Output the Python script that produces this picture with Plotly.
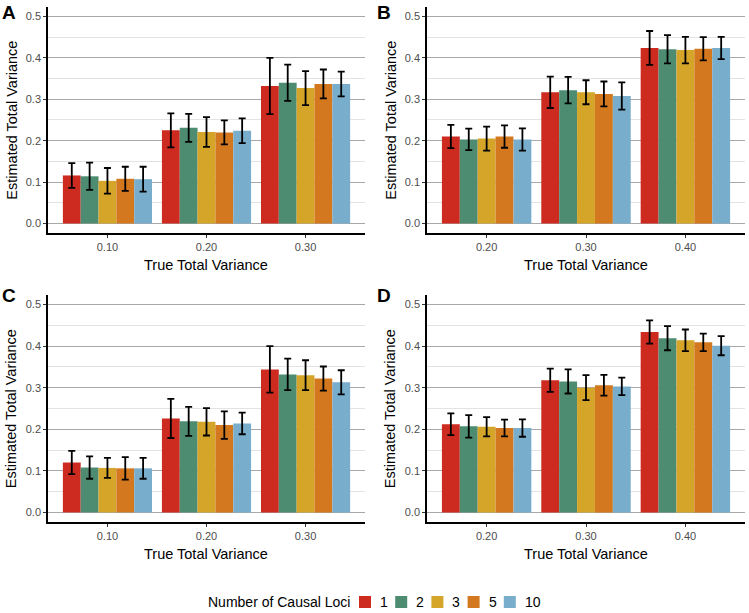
import plotly.graph_objects as go
from plotly.subplots import make_subplots

# categories
loci = ["1", "2", "3", "5", "10"]
loci_colors = ["#CD2A20", "#4E8C72", "#D5A52A", "#D3781F", "#78ADCC"]
true_var_ac = ["0.10", "0.20", "0.30"]
true_var_bd = ["0.20", "0.30", "0.40"]

# estimated total variance, one row per number of causal loci
est_a = [[0.116, 0.225, 0.332], [0.114, 0.231, 0.340], [0.103, 0.221, 0.327],
         [0.108, 0.220, 0.337], [0.107, 0.224, 0.337]]
err_a = [[0.030, 0.041, 0.068], [0.033, 0.034, 0.044], [0.031, 0.036, 0.041],
         [0.029, 0.029, 0.035], [0.030, 0.030, 0.030]]

est_b = [[0.210, 0.317, 0.424], [0.203, 0.322, 0.421], [0.205, 0.317, 0.419],
         [0.210, 0.313, 0.422], [0.203, 0.308, 0.424]]
err_b = [[0.028, 0.038, 0.041], [0.026, 0.032, 0.034], [0.029, 0.029, 0.032],
         [0.027, 0.030, 0.028], [0.027, 0.033, 0.027]]

est_c = [[0.120, 0.226, 0.344], [0.108, 0.219, 0.332], [0.107, 0.218, 0.330],
         [0.106, 0.210, 0.322], [0.106, 0.214, 0.313]]
err_c = [[0.028, 0.047, 0.056], [0.027, 0.035, 0.038], [0.024, 0.033, 0.036],
         [0.027, 0.033, 0.029], [0.025, 0.026, 0.029]]

est_d = [[0.212, 0.318, 0.434], [0.207, 0.315, 0.419], [0.206, 0.300, 0.414],
         [0.203, 0.306, 0.409], [0.203, 0.303, 0.401]]
err_d = [[0.026, 0.028, 0.028], [0.027, 0.029, 0.029], [0.023, 0.030, 0.026],
         [0.020, 0.025, 0.021], [0.021, 0.021, 0.023]]

panels = [
    ("A", 1, 1, true_var_ac, est_a, err_a),
    ("B", 1, 2, true_var_bd, est_b, err_b),
    ("C", 2, 1, true_var_ac, est_c, err_c),
    ("D", 2, 2, true_var_bd, est_d, err_d),
]

FONT = "Liberation Sans, Arial, sans-serif"
W, H = 749, 613


def px_x(x):
    return x / W


def px_y(y):
    return 1 - y / H


fig = make_subplots(rows=2, cols=2)

for letter, row, col, cats, est, err in panels:
    for i, locus in enumerate(loci):
        fig.add_trace(
            go.Bar(
                x=cats, y=est[i], name=locus,
                marker=dict(color=loci_colors[i], line=dict(width=0)),
                error_y=dict(type="data", array=err[i], color="black",
                             thickness=1.8, width=3.5),
                legendgroup=locus,
                showlegend=False,
            ),
            row=row, col=col,
        )

# panel placement (paper fractions of the page)
x_left = [0.0641, 0.4873]
x_right = [0.5701, 0.9947]
y_top = [0.6199, 0.9886]
y_bottom = [0.1485, 0.5188]

axis_ids = {(1, 1): ("xaxis", "yaxis"), (1, 2): ("xaxis2", "yaxis2"),
            (2, 1): ("xaxis3", "yaxis3"), (2, 2): ("xaxis4", "yaxis4")}

annotations = []
shapes = []
for letter, row, col, cats, est, err in panels:
    xa, ya = axis_ids[(row, col)]
    xdom = x_left if col == 1 else x_right
    ydom = y_top if row == 1 else y_bottom
    fig.layout[xa].update(
        domain=xdom, type="category", range=[-0.6, 2.6],
        showline=True, linecolor="black", linewidth=1.5,
        ticks="outside", ticklen=3, tickcolor="#333333",
        tickfont=dict(size=11, color="#4D4D4D", family=FONT),
        showgrid=False, zeroline=False, automargin=False,
    )
    fig.layout[ya].update(
        domain=ydom, range=[-0.023, 0.523],
        tickvals=[0, 0.1, 0.2, 0.3, 0.4, 0.5], tickformat=".1f",
        showline=True, linecolor="black", linewidth=1.5,
        ticks="outside", ticklen=3, tickcolor="#333333",
        tickfont=dict(size=11, color="#4D4D4D", family=FONT),
        showgrid=True, gridcolor="#A9A9A9", gridwidth=1,
        minor=dict(tick0=0, dtick=0.05, showgrid=True,
                   gridcolor="#E3E3E3", gridwidth=1, ticks=""),
        zeroline=False, automargin=False,
    )
    xmid = (xdom[0] + xdom[1]) / 2
    ymid = (ydom[0] + ydom[1]) / 2
    annotations.append(dict(
        text="True Total Variance", x=xmid, y=ydom[0] - 0.052,
        xref="paper", yref="paper", showarrow=False,
        xanchor="center", yanchor="middle",
        font=dict(size=14.5, color="black", family=FONT),
    ))
    annotations.append(dict(
        text="Estimated Total Variance", x=xdom[0] - 0.0485, y=ymid,
        xref="paper", yref="paper", showarrow=False, textangle=-90,
        xanchor="center", yanchor="middle",
        font=dict(size=14.5, color="black", family=FONT),
    ))
    annotations.append(dict(
        text="<b>%s</b>" % letter,
        x=0.0 if col == 1 else 0.501,
        y=1.0 if row == 1 else 0.538,
        xref="paper", yref="paper", showarrow=False,
        xanchor="left", yanchor="top",
        font=dict(size=19, color="black", family=FONT),
    ))

# bottom legend in ggplot style: title, then key squares with labels
legend_mid = 602
annotations.append(dict(
    text="Number of Causal Loci", x=px_x(206), y=px_y(legend_mid),
    xref="paper", yref="paper", showarrow=False,
    xanchor="left", yanchor="middle",
    font=dict(size=14, color="black", family=FONT),
))
for i, (locus, color) in enumerate(zip(loci, loci_colors)):
    left = 359 + 36.2 * i
    shapes.append(dict(
        type="rect", xref="paper", yref="paper",
        x0=px_x(left), x1=px_x(left + 12),
        y0=px_y(legend_mid + 6), y1=px_y(legend_mid - 6),
        fillcolor=color, line=dict(width=0),
    ))
    annotations.append(dict(
        text=locus, x=px_x(left + 19), y=px_y(legend_mid),
        xref="paper", yref="paper", showarrow=False,
        xanchor="left", yanchor="middle",
        font=dict(size=14, color="black", family=FONT),
    ))

fig.update_layout(
    width=W, height=H,
    margin=dict(l=0, r=0, t=0, b=0, autoexpand=False),
    plot_bgcolor="white", paper_bgcolor="white",
    barmode="group", bargap=0.1, bargroupgap=0,
    font=dict(family=FONT, color="black"),
    annotations=annotations,
    shapes=shapes,
    showlegend=False,
)

fig.write_html("out.html", config={"displayModeBar": False},
               post_script="document.body.style.margin='0px';")
